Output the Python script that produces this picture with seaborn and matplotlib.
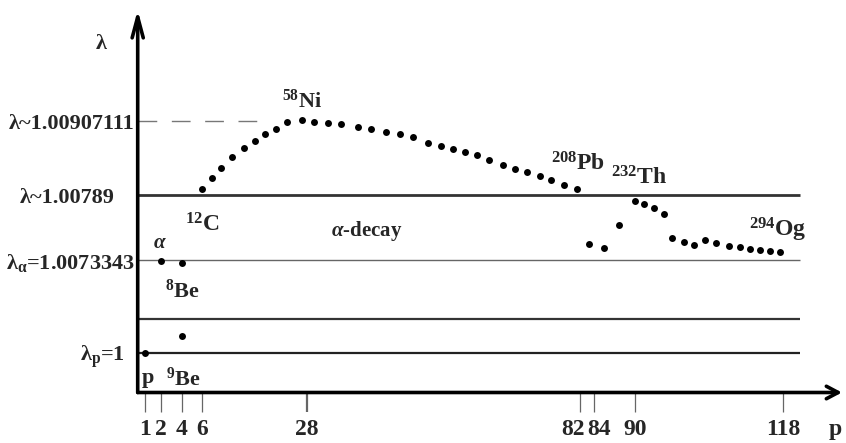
import numpy as np
import pandas as pd
import matplotlib
matplotlib.use("Agg")
import matplotlib.pyplot as plt
import matplotlib.transforms as mtransforms
import seaborn as sns

# proton number ticks on the (schematic) horizontal axis
P_TICKS = [1, 2, 4, 6, 28, 82, 84, 90, 118]

# reference lambda levels
LAM_P = 1.0
LAM_MID = 1.00267          # unlabeled level between lambda_p and lambda_alpha
LAM_ALPHA = 1.0073343
LAM_C = 1.00789
LAM_NI = 1.00907111
LEVEL_TICKS = [LAM_P, LAM_ALPHA, LAM_C, LAM_NI]
LEVEL_LABELS = ["λ$_p$=1", "λ$_α$=1.0073343", "λ~1.00789", "λ~1.00907111"]

# light nuclei: p, alpha, 8Be, 9Be
P_LIGHT = [1, 2, 4, 4]
LAM_LIGHT = [1.0, 1.00728, 1.00707, 1.001345]

# 12C ... 208Pb
P_STABLE = [6, 8, 10, 12.2, 14.8, 17, 19.2, 21.5, 23.9, 27, 29.4, 32.1, 34.8,
            38, 40.6, 43.6, 46.4, 49, 52, 54.5, 56.9, 59.2, 61.7, 64, 66.8,
            69.1, 71.5, 74, 76.3, 78.9, 81.4]
LAM_STABLE = [1.007981, 1.008157, 1.008321, 1.008492, 1.008640, 1.008757,
              1.008864, 1.008948, 1.009050, 1.009076, 1.009060, 1.009044,
              1.009028, 1.008971, 1.008948, 1.008900, 1.008859, 1.008811,
              1.008725, 1.008677, 1.008624, 1.008576, 1.008528, 1.008453,
              1.008364, 1.008310, 1.008257, 1.008198, 1.008125, 1.008050,
              1.007981]

# beyond 208Pb ... 294Og
P_HEAVY = [83.3, 85.5, 87.7, 90, 91.7, 93.5, 95.4, 97.0, 99.2, 101.1, 103.3,
           105.4, 107.7, 109.8, 111.7, 113.6, 115.5, 117.5]
LAM_HEAVY = [1.007469, 1.007440, 1.007634, 1.007839, 1.007813, 1.007779,
             1.007725, 1.007520, 1.007486, 1.007460, 1.007505, 1.007477,
             1.007451, 1.007443, 1.007426, 1.007417, 1.007411, 1.007405]

# schematic (piecewise linear) axis scales
P_KNOTS = [0, 1, 2, 4, 6, 28, 82, 84, 90, 118, 125]
X_KNOTS = [137.7, 145, 161, 181.7, 202.3, 307, 580, 594, 635, 783, 842]
LAM_KNOTS = [0.9995, 1.0, 1.0073343, 1.00789, 1.00907111, 1.0100]
Y_KNOTS = [50.5, 90.3, 183.0, 248.0, 322.0, 433.0]


def piecewise(knots_in, knots_out):
    def f(v):
        return np.interp(np.asarray(v, dtype=float), knots_in, knots_out)
    return f


sns.set_style("white")
plt.rcParams["font.family"] = ["Liberation Serif", "DejaVu Serif"]
plt.rcParams["font.weight"] = "bold"
plt.rcParams["mathtext.fontset"] = "custom"
plt.rcParams["mathtext.rm"] = "Liberation Serif:bold"
plt.rcParams["mathtext.bf"] = "Liberation Serif:bold"
plt.rcParams["mathtext.it"] = "Liberation Serif:italic:bold"
plt.rcParams["mathtext.default"] = "regular"

fig = plt.figure(figsize=(8.46, 4.43), dpi=100)
ax = fig.add_axes([137.7 / 846, 50.5 / 443, (842 - 137.7) / 846, (433 - 50.5) / 443])
ax.set_xscale("function", functions=(piecewise(P_KNOTS, X_KNOTS), piecewise(X_KNOTS, P_KNOTS)))
ax.set_yscale("function", functions=(piecewise(LAM_KNOTS, Y_KNOTS), piecewise(Y_KNOTS, LAM_KNOTS)))

# level lines
ax.hlines(LAM_P, 0, 120, color="#222222", lw=1.6)
ax.hlines(LAM_MID, 0, 120, color="#333333", lw=1.6)
ax.hlines(LAM_ALPHA, 0, 120, color="#666666", lw=1.0)
ax.hlines(LAM_C, 0, 120, color="#333333", lw=2.0)
ax.plot([0, 20], [LAM_NI, LAM_NI], color="#777777", lw=1.0, dashes=(13.5, 10.5))

df = pd.DataFrame({
    "p": P_LIGHT + P_STABLE + P_HEAVY,
    "lam": LAM_LIGHT + LAM_STABLE + LAM_HEAVY,
})
sns.scatterplot(data=df, x="p", y="lam", color="black", s=25, linewidth=0,
                legend=False, ax=ax, zorder=3)

ax.set_xlim(0, 125)
ax.set_ylim(LAM_KNOTS[0], LAM_KNOTS[-1])
for s in ax.spines.values():
    s.set_visible(False)

# axes drawn as arrows
ax.annotate("", xy=(1, 0), xytext=(0, 0), xycoords="axes fraction",
            arrowprops=dict(arrowstyle="->,head_length=0.85,head_width=0.45",
                            lw=2.6, color="black", shrinkA=0, shrinkB=0),
            annotation_clip=False)
ax.annotate("", xy=(0, 1), xytext=(0, 0), xycoords="axes fraction",
            arrowprops=dict(arrowstyle="->,head_length=1.5,head_width=0.4",
                            lw=2.6, color="black", shrinkA=0, shrinkB=0),
            annotation_clip=False)

ax.set_xticks(P_TICKS)
ax.set_xticklabels([str(t) for t in P_TICKS])
ax.set_yticks(LEVEL_TICKS)
ax.set_yticklabels(LEVEL_LABELS)
ax.minorticks_off()
ax.tick_params(axis="x", bottom=True, direction="out", length=14, width=0.9,
               color="#666666", pad=5, labelsize=17)
ax.tick_params(axis="y", left=True, length=0, pad=2, labelsize=16)
for lab in ax.get_xticklabels() + ax.get_yticklabels():
    lab.set_fontweight("bold")

xt = ax.xaxis.get_major_ticks()
xt[4].tick1line.set_markeredgewidth(1.6)
xt[4].tick1line.set_color("#222222")


def shift_label(text, dx_pt):
    text.set_transform(text.get_transform()
                       + mtransforms.ScaledTranslation(dx_pt / 72, 0, fig.dpi_scale_trans))


# 82 / 84 labels pushed apart, as in the sketch
shift_label(xt[5].label1, -5.0)
shift_label(xt[6].label1, 3.6)

# uneven right edges of the level labels
for tick, shift in zip(ax.yaxis.get_major_ticks(), [-7.2, 0, -14.4, 0]):
    shift_label(tick.label1, shift)

ax.set_xlabel("p", fontsize=17, fontweight="bold")
ax.xaxis.set_label_coords((835 - 137.7) / 704.3, (392.5 - 430) / 382.5)
ax.xaxis.label.set_va("center")
ax.set_ylabel("λ", fontsize=16, fontweight="bold", rotation=0, va="center", ha="center")
ax.yaxis.set_label_coords((101 - 137.7) / 704.3, (392.5 - 44) / 382.5)


def tag(text, xy, dx, dy, size):
    ax.annotate(text, xy=xy, xytext=(dx, dy), textcoords="offset points",
                ha="center", va="baseline", fontsize=size, fontweight="bold")


tag("$^{58}$Ni", (P_STABLE[9], LAM_STABLE[9]), 0, 9.1, 16)
tag("$^{12}$C", (P_STABLE[0], LAM_STABLE[0]), 0, -30.7, 17)
tag("$\\mathit{α}$-decay", (40, LAM_C), -1, -29.5, 15)
tag("$\\mathit{α}$", (P_LIGHT[1], LAM_LIGHT[1]), -0.7, 9.1, 15)
tag("$^{8}$Be", (P_LIGHT[2], LAM_LIGHT[2]), 0.6, -25, 16)
tag("$^{9}$Be", (P_LIGHT[3], LAM_LIGHT[3]), 1, -36.2, 16)
tag("p", (P_LIGHT[0], LAM_LIGHT[0]), 2.2, -21.8, 16)
tag("$^{208}$Pb", (P_STABLE[-1], LAM_STABLE[-1]), 1, 13.2, 17)
tag("$^{232}$Th", (P_HEAVY[3], LAM_HEAVY[3]), 3.2, 11.5, 17)
tag("$^{294}$Og", (P_HEAVY[-1], LAM_HEAVY[-1]), -1.7, 10.8, 17)

fig.savefig("out.png", dpi=100)
